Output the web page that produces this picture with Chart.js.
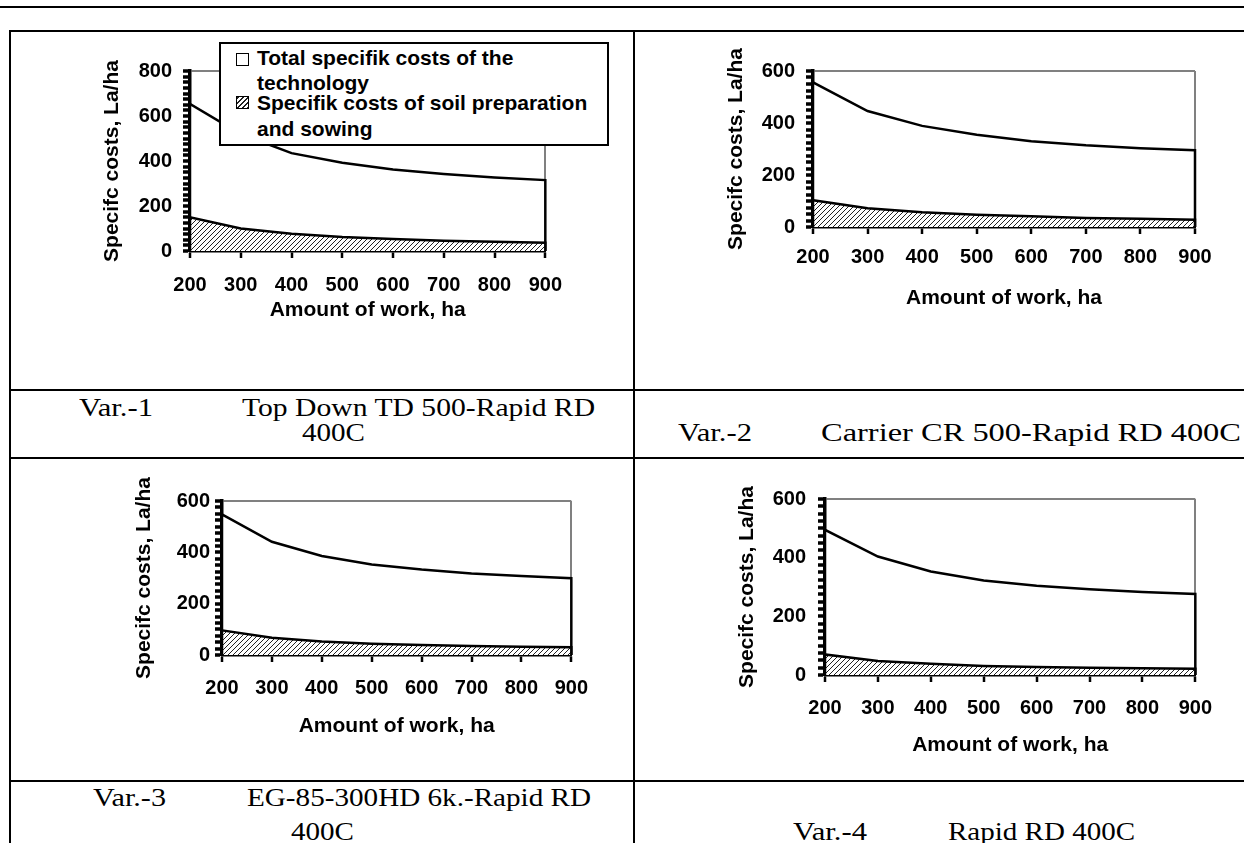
<!DOCTYPE html>
<html>
<head>
<meta charset="utf-8">
<title>Specific costs</title>
<script src="https://cdn.jsdelivr.net/npm/chart.js@4.4.0/dist/chart.umd.min.js"></script>
<style>
  html, body { margin: 0; padding: 0; background: #fff; }
  #page { position: relative; width: 1244px; height: 843px; overflow: hidden; background: #fff; }
  .hl { position: absolute; height: 2px; background: #000; }
  .vl { position: absolute; width: 2px; background: #000; }
  canvas { position: absolute; }
  .cap { position: absolute; font-family: "Liberation Serif", "Times New Roman", serif; font-size: 26px;
         line-height: 1; white-space: nowrap; transform-origin: 0 50%; color: #000; }
  #legend { position: absolute; left: 219px; top: 42px; width: 386px; height: 100px; border: 2px solid #000;
            background: #fff; font: bold 21px "Liberation Sans", Arial, sans-serif; z-index: 5; }
  .lg { position: absolute; left: 36px; line-height: 1; white-space: nowrap; }
  .sw { position: absolute; left: 15px; width: 11px; height: 11px; border: 1.5px solid #000; background: #fff; }
  .sw.hatch { background: repeating-linear-gradient(-45deg, #222 0 1px, #fff 1px 3.5px); }
</style>
</head>
<body>
<div id="page">
  <div class="hl" style="left:0;top:6px;width:1244px"></div>
  <div class="hl" style="left:9px;top:30px;width:1235px"></div>
  <div class="hl" style="left:9px;top:389px;width:1235px"></div>
  <div class="hl" style="left:9px;top:457px;width:1235px"></div>
  <div class="hl" style="left:9px;top:780px;width:1235px"></div>
  <div class="vl" style="left:9px;top:30px;height:813px"></div>
  <div class="vl" style="left:633px;top:30px;height:813px"></div>

  <div id="legend">
    <div class="sw" style="top:9px"></div>
    <div class="lg" style="top:3px">Total specifik costs of the</div>
    <div class="lg" style="top:28px">technology</div>
    <div class="sw hatch" style="top:52px"></div>
    <div class="lg" style="top:48px">Specifik costs of soil preparation</div>
    <div class="lg" style="top:74px">and sowing</div>
  </div>
</div>

<script>
// amount of work, ha
const workHa = [200, 300, 400, 500, 600, 700, 800, 900];

// Var.-1 Top Down TD 500-Rapid RD 400C
const totalVar1 = [654, 520, 435, 392, 362, 342, 327, 315];
const soilVar1  = [150, 100, 77, 62, 53, 46, 41, 37];
// Var.-2 Carrier CR 500-Rapid RD 400C
const totalVar2 = [556, 446, 389, 355, 330, 314, 303, 295];
const soilVar2  = [103, 72, 57, 47, 41, 35, 32, 28];
// Var.-3 EG-85-300HD 6k.-Rapid RD 400C
const totalVar3 = [548, 441, 386, 353, 333, 318, 308, 299];
const soilVar3  = [96, 67, 53, 44, 39, 35, 32, 30];
// Var.-4 Rapid RD 400C
const totalVar4 = [495, 404, 353, 322, 304, 292, 283, 276];
const soilVar4  = [70, 48, 38, 31, 27, 25, 23, 21];

const yMaxVar = [800, 600, 600, 600];
const yLabelStep = 200;
const yMinorStep = 25;
const xTitle = 'Amount of work, ha';
const yTitle = 'Specifc costs, La/ha';

// caption texts: [text, left, right, centre y]
const captions = [
  ['Var.-1', 79, 153, 408],
  ['Top Down TD 500-Rapid RD', 242, 595, 408],
  ['400C', 302, 365, 433],
  ['Var.-2', 678, 752, 433],
  ['Carrier CR 500-Rapid RD 400C', 821, 1241, 433],
  ['Var.-3', 93, 166, 798],
  ['EG-85-300HD 6k.-Rapid RD', 247, 591, 798],
  ['400C', 291, 354, 832],
  ['Var.-4', 793, 867, 832],
  ['Rapid RD 400C', 948, 1135, 832]
];

// plot boxes in page pixels
const boxes = [
  {L: 190, R: 547, T: 71, B: 251, ytx: 113, ylr: 172, xly: 285, xty: 310},
  {L: 813, R: 1195, T: 71, B: 227, ytx: 737, ylr: 795, xly: 257, xty: 298},
  {L: 222, R: 572, T: 501, B: 655, ytx: 145, ylr: 210, xly: 688, xty: 726},
  {L: 825, R: 1196, T: 499, B: 675, ytx: 748, ylr: 806, xly: 708, xty: 745}
];

Chart.defaults.color = '#000';
const fam = '"Liberation Sans", Arial, Helvetica, sans-serif';
const tickFont = {family: fam, size: 20, weight: 'bold', lineHeight: 1.2};
const titleFont = {family: fam, size: 21, weight: 'bold', lineHeight: 1.2};
const page = document.getElementById('page');
const padTop = 36;

function outline(vals) {
    var pts = [{x: workHa[0], y: 0}];
    workHa.forEach(function (x, i) { pts.push({x: x, y: vals[i]}); });
    pts.push({x: workHa[workHa.length - 1], y: 0});
    return pts;
}

function hatchFor(ctx) {
    var c = document.createElement('canvas');
    c.width = 5; c.height = 5;
    var h = c.getContext('2d');
    h.fillStyle = '#fff';
    h.fillRect(0, 0, 5, 5);
    h.strokeStyle = '#222';
    h.lineWidth = 1;
    h.beginPath();
    h.moveTo(0, 5); h.lineTo(5, 0);
    h.moveTo(-1, 1); h.lineTo(1, -1);
    h.moveTo(4, 6); h.lineTo(6, 4);
    h.stroke();
    return ctx.createPattern(c, 'repeat');
}

function makeChart(g, total, soil, yMax) {
    var left = Math.round(g.ytx - 16.6);
    var top = g.T - padTop;
    var right = g.R + 30;
    var bottom = Math.round(g.xty + 18.6);
    var canvas = document.createElement('canvas');
    canvas.width = right - left;
    canvas.height = bottom - top;
    canvas.style.left = left + 'px';
    canvas.style.top = top + 'px';
    canvas.style.width = (right - left) + 'px';
    canvas.style.height = (bottom - top) + 'px';
    page.appendChild(canvas);
    var ctx = canvas.getContext('2d');

    var yW = g.L - left - 4;
    var xH = g.xty + 12.6 - g.B;
    var padB = (bottom - top) - (g.B - top) - xH;
    var maxX = workHa[workHa.length - 1];

    new Chart(ctx, {
        type: 'line',
        data: {
            datasets: [{
                data: outline(soil),
                fill: 'origin',
                backgroundColor: hatchFor(ctx),
                borderColor: '#000',
                borderWidth: 2.5,
                pointRadius: 0,
                tension: 0,
                clip: false
            }, {
                data: outline(total),
                fill: 'origin',
                backgroundColor: '#fff',
                borderColor: '#000',
                borderWidth: 2.5,
                pointRadius: 0,
                tension: 0,
                clip: false
            }]
        },
        options: {
            responsive: false,
            animation: false,
            devicePixelRatio: 1,
            layout: {padding: {left: 4, top: padTop, right: 30, bottom: padB}},
            plugins: {legend: {display: false}, tooltip: {enabled: false}},
            scales: {
                x: {
                    type: 'linear',
                    min: workHa[0],
                    max: maxX,
                    ticks: {stepSize: 100, padding: g.xly - g.B - 19, font: tickFont, autoSkip: false, maxRotation: 0},
                    grid: {
                        color: function (c) { return c.tick && c.tick.value === maxX ? '#808080' : 'rgba(0,0,0,0)'; },
                        lineWidth: 2, tickColor: '#000', tickLength: 7, tickWidth: 2.5
                    },
                    border: {color: '#000', width: 2.5},
                    title: {display: true, text: xTitle, font: titleFont, padding: 0},
                    afterFit: function (s) { s.height = xH; }
                },
                y: {
                    min: 0,
                    max: yMax,
                    ticks: {
                        stepSize: yMinorStep, maxTicksLimit: 200, autoSkip: false,
                        padding: g.L - g.ylr - 7, font: tickFont,
                        callback: function (v) { return v % yLabelStep === 0 ? v : ''; }
                    },
                    grid: {
                        color: function (c) { return c.tick && c.tick.value === yMax ? '#808080' : 'rgba(0,0,0,0)'; },
                        lineWidth: 2, tickColor: '#000', tickLength: 7, tickWidth: 3.5
                    },
                    border: {color: '#000', width: 3.5},
                    title: {display: true, text: yTitle, font: titleFont, padding: 0},
                    afterFit: function (s) { s.width = yW; }
                }
            }
        }
    });
}

makeChart(boxes[0], totalVar1, soilVar1, yMaxVar[0]);
makeChart(boxes[1], totalVar2, soilVar2, yMaxVar[1]);
makeChart(boxes[2], totalVar3, soilVar3, yMaxVar[2]);
makeChart(boxes[3], totalVar4, soilVar4, yMaxVar[3]);

captions.forEach(function (c) {
    var s = document.createElement('span');
    s.className = 'cap';
    s.textContent = c[0];
    s.style.left = c[1] + 'px';
    s.style.top = (c[3] - 0.5065 * 26) + 'px';
    page.appendChild(s);
    var w = s.getBoundingClientRect().width;
    s.style.transform = 'scaleX(' + ((c[2] - c[1]) / w).toFixed(3) + ')';
});
</script>
</body>
</html>
